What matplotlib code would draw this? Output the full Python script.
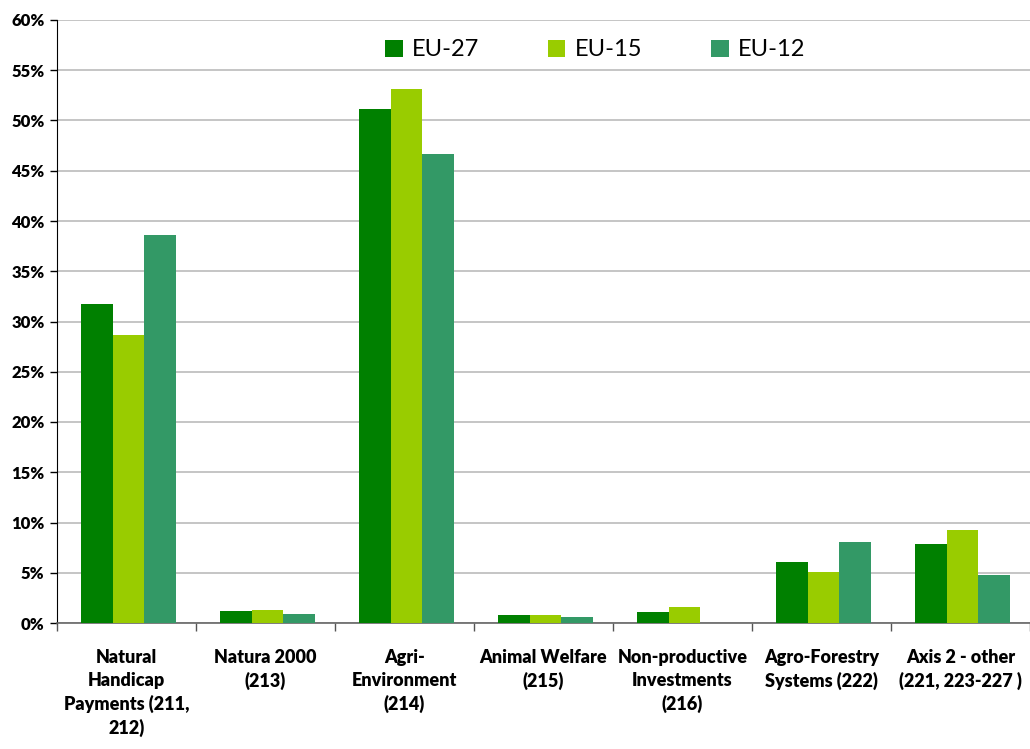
import numpy as np
import matplotlib.pyplot as plt
from matplotlib.ticker import MultipleLocator, FuncFormatter, FixedLocator

categories = ['Natural\nHandicap\nPayments (211,\n212)', 'Natura 2000\n(213)',
              'Agri-\nEnvironment\n(214)', 'Animal Welfare\n(215)',
              'Non-productive\nInvestments\n(216)', 'Agro-Forestry\nSystems (222)',
              'Axis 2 - other\n(221, 223-227 )']
series_names = ['EU-27', 'EU-15', 'EU-12']
eu27 = [31.7, 1.2, 51.1, 0.8, 1.1, 6.1, 7.9]
eu15 = [28.7, 1.3, 53.1, 0.8, 1.6, 5.1, 9.3]
eu12 = [38.6, 0.9, 46.7, 0.6, 0.0, 8.1, 4.8]
colors = ['#008000', '#99CC00', '#339966']

plt.rcParams['font.family'] = ['Lato', 'DejaVu Sans']

fig = plt.figure(figsize=(10.30, 7.49), dpi=100)
ax = fig.add_axes([57 / 1030, 1 - 623 / 749, 1 - 57 / 1030, (623 - 20) / 749])

x = np.arange(len(categories))
w = 0.227
for i, (vals, name, c) in enumerate(zip([eu27, eu15, eu12], series_names, colors)):
    ax.bar(x + (i - 1) * w + 0.015, vals, width=w, color=c, label=name, zorder=3)

ax.set_xlim(-0.5, len(categories) - 0.5)
ax.set_ylim(0, 60)
ax.yaxis.set_major_locator(MultipleLocator(5))
ax.yaxis.set_major_formatter(FuncFormatter(lambda v, p: f'{v:.0f}%'))
ax.grid(axis='y', color='#bbbbbb', linewidth=1.2, zorder=0)

ax.set_xticks(x)
ax.set_xticklabels(categories, fontweight='heavy', fontsize=13, linespacing=1.38)
ax.tick_params(axis='x', length=0, pad=19)
ax.xaxis.set_minor_locator(FixedLocator(np.arange(-0.5, len(categories) + 0.5, 1)))
ax.tick_params(axis='x', which='minor', length=6, width=1, color='#555555')
ax.tick_params(axis='y', length=5, width=1, labelsize=12, pad=4)
for lab in ax.get_yticklabels():
    lab.set_fontweight('heavy')

for s in ['top', 'right']:
    ax.spines[s].set_visible(False)
ax.spines['left'].set_color('black')
ax.spines['bottom'].set_color('#666666')
ax.spines['bottom'].set_linewidth(1.2)

ax.legend(loc='upper center', bbox_to_anchor=(0.553, 1.003), ncol=3, frameon=False,
          fontsize=17, handlelength=0.75, handleheight=0.75, handletextpad=0.4,
          columnspacing=2.9)

fig.savefig('out.png', dpi=100, facecolor='white')
